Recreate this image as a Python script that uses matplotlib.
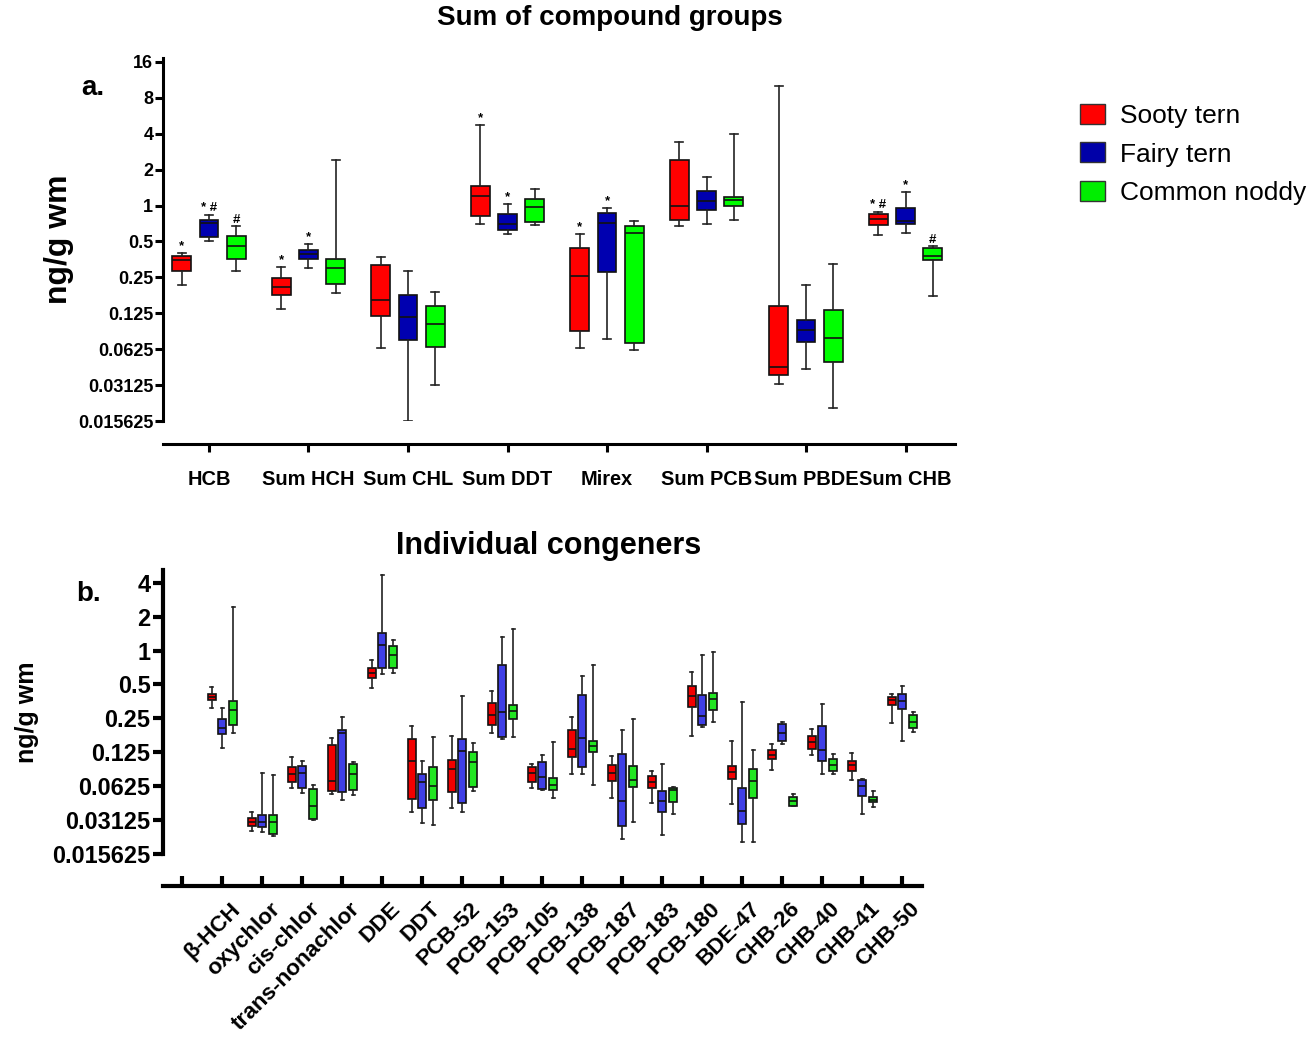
import numpy as np
import matplotlib
matplotlib.use("Agg")
import matplotlib.pyplot as plt
import matplotlib.transforms as mtransforms
from matplotlib.patches import Patch

plt.rcParams['font.family'] = ['Liberation Sans', 'DejaVu Sans']

species = ['Sooty tern', 'Fairy tern', 'Common noddy']

# --- panel a: sums of compound groups ---
# each row: whisker low, q1, median, q3, whisker high (ng/g wm)
groups = ['HCB', 'Sum HCH', 'Sum CHL', 'Sum DDT', 'Mirex', 'Sum PCB', 'Sum PBDE', 'Sum CHB']
sum_sooty = [
    (0.216, 0.285, 0.350, 0.376, 0.398),
    (0.137, 0.178, 0.209, 0.246, 0.306),
    (0.0636, 0.118, 0.160, 0.320, 0.373),
    (0.697, 0.813, 1.206, 1.463, 4.75),
    (0.0636, 0.089, 0.255, 0.438, 0.579),
    (0.676, 0.759, 0.994, 2.43, 3.39),
    (0.0318, 0.0380, 0.0441, 0.145, 10.09),
    (0.568, 0.689, 0.774, 0.852, 0.891),
]
sum_fairy = [
    (0.509, 0.542, 0.711, 0.759, 0.84),
    (0.298, 0.359, 0.390, 0.422, 0.474),
    (0.0157, 0.0746, 0.117, 0.178, 0.285),
    (0.579, 0.629, 0.70, 0.852, 1.025),
    (0.0755, 0.276, 0.711, 0.862, 0.949),
    (0.697, 0.926, 1.087, 1.318, 1.75),
    (0.0428, 0.0714, 0.0897, 0.110, 0.215),
    (0.590, 0.697, 0.749, 0.957, 1.303),
]
sum_noddy = [
    (0.285, 0.354, 0.459, 0.56, 0.67),
    (0.185, 0.218, 0.298, 0.354, 2.43),
    (0.0316, 0.0653, 0.1024, 0.145, 0.190),
    (0.689, 0.724, 0.981, 1.129, 1.389),
    (0.0616, 0.0700, 0.586, 0.671, 0.744),
    (0.759, 0.994, 1.123, 1.174, 3.99),
    (0.0199, 0.0486, 0.0781, 0.1335, 0.326),
    (0.176, 0.350, 0.381, 0.442, 0.456),
]
# significance marks above each box
marks_sooty = ['*', '*', '', '*', '*', '', '', '* #']
marks_fairy = ['* #', '*', '', '*', '*', '', '', '*']
marks_noddy = ['#', '', '', '', '', '', '', '#']

# --- panel b: individual congeners ---
congeners = ['β-HCH', 'oxychlor', 'cis-chlor', 'trans-nonachlor', 'DDE', 'DDT', 'PCB-52',
             'PCB-153', 'PCB-105', 'PCB-138', 'PCB-187', 'PCB-183', 'PCB-180', 'BDE-47',
             'CHB-26', 'CHB-40', 'CHB-41', 'CHB-50']
ind_sooty = [
    (0.306, 0.362, 0.388, 0.413, 0.476),
    (0.0249, 0.0278, 0.0301, 0.0327, 0.0367),
    (0.0608, 0.0683, 0.0803, 0.0934, 0.1139),
    (0.0538, 0.0563, 0.0701, 0.144, 0.168),
    (0.466, 0.572, 0.634, 0.702, 0.820),
    (0.0370, 0.0478, 0.105, 0.164, 0.213),
    (0.0398, 0.0556, 0.0890, 0.107, 0.173),
    (0.187, 0.220, 0.266, 0.340, 0.435),
    (0.0599, 0.0683, 0.0822, 0.0929, 0.0993),
    (0.0797, 0.113, 0.135, 0.196, 0.256),
    (0.0491, 0.0701, 0.0822, 0.097, 0.116),
    (0.0444, 0.0604, 0.0683, 0.0776, 0.0860),
    (0.175, 0.314, 0.398, 0.486, 0.642),
    (0.0430, 0.0730, 0.0838, 0.0939, 0.156),
    (0.0872, 0.1094, 0.1194, 0.132, 0.148),
    (0.1177, 0.134, 0.153, 0.176, 0.202),
    (0.0715, 0.0848, 0.0958, 0.105, 0.1234),
    (0.229, 0.331, 0.362, 0.385, 0.413),
]
ind_fairy = [
    (0.136, 0.182, 0.206, 0.248, 0.306),
    (0.0245, 0.0270, 0.0301, 0.0344, 0.0822),
    (0.0548, 0.0599, 0.0813, 0.0953, 0.105),
    (0.0469, 0.0556, 0.186, 0.199, 0.256),
    (0.625, 0.702, 1.124, 1.424, 4.66),
    (0.0295, 0.0398, 0.0686, 0.0803, 0.105),
    (0.0370, 0.0441, 0.128, 0.164, 0.398),
    (0.165, 0.170, 0.287, 0.740, 1.312),
    (0.0583, 0.0596, 0.0756, 0.103, 0.1186),
    (0.0797, 0.0929, 0.168, 0.407, 0.600),
    (0.0211, 0.0278, 0.0459, 0.121, 0.199),
    (0.0232, 0.0370, 0.0463, 0.0563, 0.0993),
    (0.209, 0.220, 0.265, 0.407, 0.908),
    (0.0201, 0.0289, 0.0375, 0.0599, 0.346),
    (0.148, 0.156, 0.186, 0.222, 0.233),
    (0.0797, 0.104, 0.132, 0.216, 0.336),
    (0.0357, 0.0508, 0.0623, 0.0715, 0.0730),
    (0.156, 0.304, 0.357, 0.413, 0.486),
]
ind_noddy = [
    (0.186, 0.220, 0.295, 0.357, 2.42),
    (0.0225, 0.0236, 0.0301, 0.0344, 0.0789),
    (0.0316, 0.0320, 0.0415, 0.0592, 0.0636),
    (0.0525, 0.0575, 0.0803, 0.0987, 0.103),
    (0.634, 0.702, 0.908, 1.092, 1.235),
    (0.0285, 0.0469, 0.0623, 0.0929, 0.170),
    (0.0569, 0.0617, 0.103, 0.125, 0.150),
    (0.172, 0.248, 0.289, 0.331, 1.545),
    (0.0494, 0.0575, 0.0636, 0.0741, 0.153),
    (0.0636, 0.125, 0.143, 0.156, 0.740),
    (0.0299, 0.0611, 0.0715, 0.0947, 0.248),
    (0.0357, 0.0456, 0.0583, 0.0608, 0.0611),
    (0.231, 0.298, 0.373, 0.421, 0.974),
    (0.0201, 0.0491, 0.0691, 0.0883, 0.132),
    (0.0415, 0.0415, 0.0459, 0.0502, 0.0529),
    (0.0808, 0.0848, 0.0966, 0.110, 0.120),
    (0.0412, 0.0448, 0.0476, 0.0498, 0.0571),
    (0.188, 0.206, 0.233, 0.270, 0.287),
]

top_ticks = [16, 8, 4, 2, 1, 0.5, 0.25, 0.125, 0.0625, 0.03125, 0.015625]
top_tick_labels = ['16', '8', '4', '2', '1', '0.5', '0.25', '0.125', '0.0625', '0.03125', '0.015625']
bot_ticks = top_ticks[2:]
bot_tick_labels = top_tick_labels[2:]

top_colors = ['#ff0000', '#0000b0', '#00ff00']
bot_colors = ['#f20000', '#3f3fe6', '#22e622']


def to_stats(rows):
    return [dict(whislo=r[0], q1=r[1], med=r[2], q3=r[3], whishi=r[4], fliers=[]) for r in rows]


def draw_boxes(ax, rows, pos, color, width, capw, lw):
    ax.bxp(to_stats(rows), positions=pos, widths=width, capwidths=capw,
           patch_artist=True, showfliers=False, manage_ticks=False,
           boxprops=dict(facecolor=color, edgecolor='#111111', linewidth=lw),
           whiskerprops=dict(color='#222222', linewidth=lw),
           capprops=dict(color='#222222', linewidth=lw),
           medianprops=dict(color='#111111', linewidth=lw))


fig = plt.figure(figsize=(13.16, 10.37), dpi=100)
W, H = 1316, 1037

# ---------------- panel a ----------------
ax1 = fig.add_axes([163 / W, 1 - 421 / H, (955 - 163) / W, (421 - 58) / H])
ax1.set_yscale('log', base=2)
x1 = np.arange(len(groups))
off1 = 0.275
for k, (rows, col, marks) in enumerate(zip([sum_sooty, sum_fairy, sum_noddy], top_colors,
                                           [marks_sooty, marks_fairy, marks_noddy])):
    pos = x1 + (k - 1) * off1
    draw_boxes(ax1, rows, pos, col, 0.19, 0.08, 1.2)
    for p, r, m in zip(pos, rows, marks):
        if m:
            ax1.annotate(m, (p, r[4]), xytext=(0, 0.5), textcoords='offset points',
                         ha='center', va='bottom', fontsize=9.5, fontweight='bold')

ax1.set_xlim(-0.462, 7.497)
ax1.set_ylim(2 ** -6, 2 ** 4.11)
ax1.minorticks_off()
for s in ['top', 'right']:
    ax1.spines[s].set_visible(False)
ax1.spines['left'].set_linewidth(2.2)
ax1.spines['bottom'].set_linewidth(2.2)
ax1.spines['bottom'].set_position(('outward', 16.5))
ax1.tick_params(axis='y', length=6, width=2.2, pad=1)
ax1.tick_params(axis='x', length=6, width=2.2, pad=13)
ax1.set_yticks(top_ticks)
ax1.set_yticklabels(top_tick_labels, fontsize=13, fontweight='bold')
ax1.set_xticks(x1)
ax1.set_xticklabels(groups, fontsize=14.4, fontweight='bold')
ax1.minorticks_off()
ax1.set_ylabel('ng/g wm', fontsize=23, fontweight='bold')
ax1.yaxis.set_label_coords(-0.113, 0.5)

# ---------------- panel b ----------------
ax2 = fig.add_axes([163 / W, 1 - 854 / H, (922 - 163) / W, (854 - 570) / H])
ax2.set_yscale('log', base=2)
x2 = np.arange(1, len(congeners) + 1)
off2 = 0.27
for k, (rows, col) in enumerate(zip([ind_sooty, ind_fairy, ind_noddy], bot_colors)):
    draw_boxes(ax2, rows, x2 + (k - 1) * off2, col, 0.2, 0.08, 1.2)

ax2.set_xlim(-0.4875, 18.49)
ax2.set_ylim(2 ** -6, 2 ** 2.375)
for s in ['top', 'right']:
    ax2.spines[s].set_visible(False)
ax2.spines['left'].set_linewidth(3)
ax2.spines['bottom'].set_linewidth(3)
ax2.spines['bottom'].set_position(('outward', 23))
ax2.tick_params(axis='y', length=7, width=3, pad=2)
ax2.tick_params(axis='x', direction='in', length=7, width=3, pad=9)
ax2.set_yticks(bot_ticks)
ax2.set_yticklabels(bot_tick_labels, fontsize=16.9, fontweight='bold')
ax2.set_xticks(np.arange(0, len(congeners) + 1))
ax2.set_xticklabels([''] + congeners, fontsize=16.2, fontweight='bold')
ax2.minorticks_off()
shift = mtransforms.ScaledTranslation(7 / 100, 0, fig.dpi_scale_trans)
for lab in ax2.get_xticklabels():
    lab.set_rotation(45)
    lab.set_rotation_mode('anchor')
    lab.set_ha('right')
    lab.set_va('top')
    lab.set_transform(lab.get_transform() + shift)
ax2.set_ylabel('ng/g wm', fontsize=18, fontweight='bold')
ax2.yaxis.set_label_coords(-0.164, 0.5)

# titles and panel letters
fig.text(610 / W, 1 - 18 / H, 'Sum of compound groups', ha='center', va='center',
         fontsize=20, fontweight='bold')
fig.text(549 / W, 1 - 546 / H, 'Individual congeners', ha='center', va='center',
         fontsize=22, fontweight='bold')
fig.text(93 / W, 1 - 88 / H, 'a.', ha='center', va='center', fontsize=20, fontweight='bold')
fig.text(89 / W, 1 - 594 / H, 'b.', ha='center', va='center', fontsize=20, fontweight='bold')

handles = [Patch(facecolor=c, edgecolor='#333333', linewidth=1) for c in ['#ff0000', '#0000a8', '#00ee00']]
fig.legend(handles, species, loc='upper left', bbox_to_anchor=(1080 / W, 1 - 104 / H),
           frameon=False, fontsize=19, borderpad=0, borderaxespad=0,
           handlelength=0.95, handleheight=0.8, handletextpad=0.57, labelspacing=0.53)

fig.savefig('out.png', dpi=100)
